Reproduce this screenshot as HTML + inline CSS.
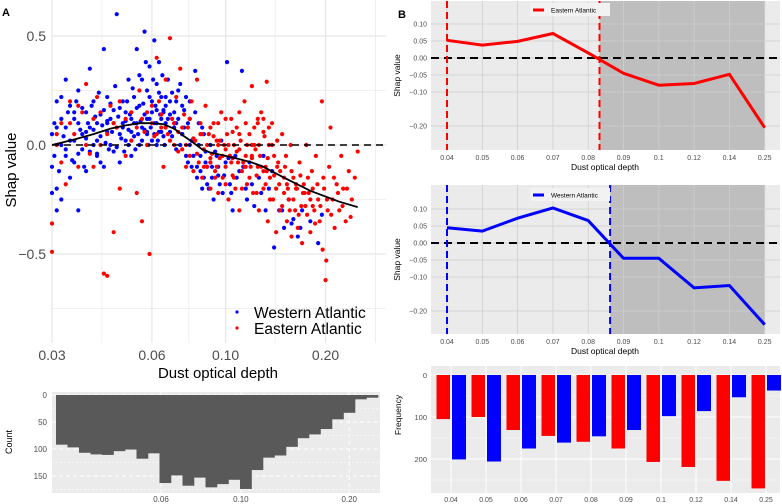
<!DOCTYPE html>
<html><head><meta charset="utf-8"><style>
body{margin:0;background:#fff;}
svg{display:block;font-family:"Liberation Sans",sans-serif;}
</style></head><body>
<svg id="chart" width="782" height="504" viewBox="0 0 782 504" xmlns="http://www.w3.org/2000/svg"></svg>
<script>
// ---------- Panel A data ----------
const westX=[0.030,0.030,0.031,0.031,0.032,0.032,0.033,0.033,0.034,0.034,0.035,0.035,0.036,0.036,0.037,0.037,0.038,0.038,0.039,0.039,0.040,0.040,0.041,0.041,0.042,0.042,0.043,0.043,0.044,0.044,0.045,0.045,0.046,0.046,0.047,0.047,0.048,0.048,0.049,0.049,0.050,0.050,0.051,0.051,0.052,0.052,0.053,0.053,0.054,0.054,0.055,0.055,0.056,0.056,0.057,0.057,0.058,0.058,0.059,0.059,0.060,0.060,0.061,0.061,0.062,0.062,0.063,0.063,0.064,0.064,0.065,0.066,0.066,0.067,0.068,0.068,0.069,0.070,0.071,0.071,0.072,0.073,0.074,0.075,0.076,0.077,0.078,0.079,0.080,0.081,0.082,0.083,0.084,0.085,0.086,0.087,0.088,0.090,0.091,0.092,0.094,0.095,0.097,0.098,0.100,0.101,0.103,0.105,0.107,0.110,0.112,0.115,0.118,0.122,0.126,0.130,0.135,0.140,0.145,0.150,0.155,0.160,0.165,0.170,0.180,0.190,0.195,0.030,0.031,0.036,0.032,0.035,0.038,0.041,0.044,0.033,0.058,0.062,0.065,0.070,0.074,0.078,
0.0305,0.0305,0.031,0.0315,0.032,0.0325,0.033,0.0335,0.034,0.0345,0.035,0.0355,0.036,0.0365,0.037,0.0375,0.038,0.0385,0.039,0.0395,0.040,0.0405,0.041,0.0415,0.042,0.0425,0.043,0.0435,0.044,0.0445,0.045,0.0455,0.046,0.0465,0.047,0.0475,0.048,0.0485,0.049,0.0495,0.050,0.0505,0.051,0.0515,0.052,0.0525,0.053,0.0535,0.054,0.0545,0.055,0.0555,0.056,0.0565,0.057,0.0575,0.058,0.0585,0.059,0.0595,0.060,0.0605,0.061,0.0615,0.062,0.0625,0.063,0.0635,0.064,0.0645,0.065,0.0655,0.066,0.067,0.068,0.069,0.070,0.071,0.072,0.073,0.074,0.075,0.076,0.077,0.078,0.079,0.080,0.081,0.082,0.083,0.084,0.085,0.086,0.087,0.088,0.089,0.090,0.091,0.093,0.095,0.096,0.099,0.102,0.104,0.108,0.113,0.116,0.120,0.128,0.132,0.138,0.148,0.158,0.168];
const westY=[0.05,-0.1,0.2,-0.2,0.0,0.12,-0.05,0.08,-0.15,0.18,0.02,-0.08,0.1,0.25,-0.02,0.05,0.15,-0.12,0.08,0.35,0.0,0.2,0.1,-0.05,0.14,0.04,0.44,-0.1,0.06,0.22,0.0,0.12,-0.03,0.16,0.08,0.6,0.05,-0.08,0.2,0.1,0.02,0.15,0.3,0.07,-0.05,0.12,0.22,0.04,0.1,0.44,0.18,0.0,0.3,0.08,0.52,0.14,0.25,0.05,0.36,0.12,0.2,0.02,0.48,0.1,0.16,0.28,0.06,0.38,0.12,0.22,0.04,0.18,0.1,0.3,0.06,0.14,0.24,0.08,0.2,-0.02,0.12,0.28,0.05,0.16,-0.05,0.1,0.2,-0.1,0.03,0.34,-0.15,0.1,-0.05,-0.2,0.05,-0.08,-0.18,0.0,-0.1,-0.25,-0.05,-0.14,0.02,-0.22,-0.08,0.38,-0.18,-0.3,-0.05,-0.12,0.34,-0.2,-0.08,-0.28,-0.15,-0.05,-0.2,-0.47,-0.3,-0.38,-0.25,-0.34,-0.42,-0.3,-0.35,-0.45,-0.32,-0.22,-0.3,-0.3,-0.25,0.15,0.06,-0.04,0.1,0.3,0.06,0.0,0.15,0.1,0.05,0.0,
0.1,-0.05,0.08,-0.12,0.22,0.04,-0.02,0.15,0.02,-0.07,0.12,0.2,-0.04,0.07,0.17,-0.1,0.03,0.1,-0.03,0.18,0.07,0.13,0.02,0.24,-0.08,0.09,0.16,0.01,0.11,-0.02,0.19,0.06,0.1,0.27,-0.01,0.13,0.17,0.03,0.08,-0.03,0.11,0.2,0.0,0.14,0.06,0.26,0.1,-0.02,0.17,0.05,0.32,0.11,0.02,0.19,0.07,0.38,0.12,0.0,0.22,0.08,0.15,0.3,0.05,0.18,0.1,0.02,0.24,0.14,0.06,0.32,0.16,0.0,0.22,0.12,0.2,0.04,0.15,0.1,0.25,0.0,0.18,0.08,0.22,-0.08,0.12,0.02,-0.05,0.15,-0.1,0.0,-0.12,0.08,-0.15,-0.03,-0.1,-0.2,-0.08,-0.15,-0.03,-0.1,-0.18,-0.14,-0.06,-0.22,-0.15,-0.1,-0.25,-0.18,-0.22,-0.3,-0.12,-0.3,-0.36,-0.38];
const eastX=[0.030,0.030,0.031,0.032,0.033,0.034,0.035,0.036,0.037,0.038,0.039,0.040,0.041,0.042,0.043,0.044,0.045,0.046,0.047,0.048,0.050,0.052,0.054,0.055,0.056,0.057,0.058,0.059,0.060,0.061,0.062,0.063,0.064,0.065,0.066,0.067,0.068,0.069,0.070,0.071,0.072,0.073,0.074,0.075,0.076,0.077,0.078,0.079,0.080,0.081,0.082,0.083,0.084,0.085,0.086,0.087,0.088,0.089,0.090,0.091,0.092,0.093,0.094,0.095,0.096,0.097,0.098,0.099,0.100,0.101,0.102,0.103,0.104,0.105,0.106,0.107,0.108,0.109,0.110,0.111,0.112,0.114,0.115,0.116,0.118,0.119,0.120,0.121,0.122,0.124,0.125,0.126,0.127,0.128,0.130,0.131,0.132,0.133,0.134,0.135,0.136,0.138,0.139,0.140,0.142,0.143,0.145,0.146,0.148,0.150,0.151,0.153,0.155,0.157,0.158,0.160,0.162,0.164,0.165,0.167,0.169,0.170,0.172,0.175,0.176,0.178,0.180,0.182,0.185,0.187,0.190,0.192,0.195,0.196,0.198,0.200,0.201,0.203,0.205,0.207,0.210,0.213,0.216,0.220,0.223,0.226,0.230,0.235,0.240,0.250,0.085,0.090,0.095,0.100,0.105,0.110,0.115,0.120,0.125,0.130,0.093,0.103,0.113,0.123,0.133,0.143,0.153,0.163,0.173,0.183,
0.031,0.032,0.034,0.036,0.038,0.040,0.042,0.044,0.046,0.048,0.050,0.052,0.054,0.056,0.058,0.060,0.062,0.064,0.066,0.068,0.070,0.072,0.074,0.076,0.078,0.080,0.082,0.084,0.086,0.088,0.090,0.092,0.094,0.096,0.098,0.100,0.102,0.104,0.106,0.108,0.110,0.112,0.114,0.116,0.118,0.120,0.122,0.124,0.126,0.128,0.130,0.132,0.134,0.136,0.138,0.140,0.142,0.144,0.146,0.148,0.150,0.152,0.154,0.156,0.158,0.160,0.163,0.166,0.168,0.171,0.174,0.177,0.180,0.183,0.186,0.189,0.193,0.197,0.202,0.208,0.212,0.218,0.225,0.232,0.238,0.245,0.090,0.095,0.100,0.105,0.110,0.115,0.120,0.125,0.130,0.135];
const eastY=[-0.36,-0.49,0.0,0.1,-0.18,0.2,0.05,-0.1,0.15,0.28,-0.04,0.12,0.22,0.0,-0.59,-0.6,0.18,-0.4,0.08,-0.2,0.12,0.02,-0.22,0.25,-0.35,0.06,0.15,-0.5,0.1,0.04,0.4,0.2,0.08,-0.1,0.3,0.05,0.49,0.12,0.0,0.22,0.06,0.35,-0.02,0.14,-0.1,0.08,-0.05,0.2,-0.12,0.02,0.3,-0.08,0.1,-0.15,-0.02,0.18,-0.1,0.05,-0.2,-0.04,0.1,-0.12,0.02,-0.22,-0.06,0.15,-0.15,0.0,-0.1,0.05,-0.25,-0.05,0.12,-0.14,0.0,-0.2,0.08,-0.08,-0.3,0.02,-0.12,0.2,-0.05,-0.18,0.05,-0.1,0.27,-0.22,0.0,-0.14,0.1,-0.3,-0.05,0.15,-0.2,0.04,-0.1,0.29,-0.35,0.0,-0.15,0.1,-0.25,-0.05,-0.4,0.02,-0.18,-0.3,0.05,-0.22,-0.1,-0.35,-0.25,0.0,-0.42,-0.15,-0.3,-0.2,-0.38,-0.08,-0.28,-0.45,-0.18,0.0,-0.32,-0.22,-0.4,-0.12,-0.3,-0.05,-0.25,-0.35,0.2,-0.48,-0.2,-0.62,-0.53,-0.3,-0.1,0.08,-0.25,-0.38,-0.18,-0.3,-0.05,-0.2,-0.35,-0.12,-0.25,-0.03,0.05,-0.08,0.0,-0.02,-0.06,-0.02,-0.1,-0.06,-0.1,-0.12,-0.15,-0.05,-0.08,-0.02,-0.12,-0.1,-0.18,-0.2,-0.22,-0.28,
0.05,-0.08,0.1,0.18,0.0,-0.1,0.15,0.05,0.1,0.2,-0.05,0.15,0.08,0.12,0.0,0.18,0.05,0.14,0.08,0.02,0.1,-0.03,0.08,0.0,0.12,0.03,-0.04,0.05,-0.1,0.0,-0.06,0.04,-0.1,0.02,-0.05,-0.18,0.0,-0.08,-0.15,-0.03,0.05,-0.2,-0.1,0.0,-0.15,-0.05,0.08,-0.22,0.0,-0.1,0.06,-0.18,-0.06,-0.25,0.0,-0.14,-0.2,-0.08,-0.12,-0.28,-0.15,-0.05,-0.2,-0.3,-0.12,-0.25,-0.18,-0.32,-0.14,-0.22,-0.28,-0.15,-0.25,-0.2,-0.36,-0.18,-0.28,-0.15,-0.25,-0.32,-0.15,-0.22,-0.28,-0.2,-0.33,-0.15,0.08,0.1,0.12,0.06,0.15,0.1,0.0,0.12,0.12,0.08];
const fitX=[0.030,0.035,0.040,0.045,0.050,0.055,0.060,0.065,0.070,0.075,0.080,0.085,0.090,0.100,0.110,0.120,0.130,0.150,0.180,0.220,0.250];
const fitY=[0.0,0.025,0.05,0.075,0.09,0.10,0.10,0.095,0.075,0.04,0.01,-0.02,-0.035,-0.05,-0.065,-0.08,-0.10,-0.15,-0.21,-0.26,-0.285];
const aXTicks=[0.03,0.06,0.10,0.20];
const aXTickLabels=["0.03","0.06","0.10","0.20"];
const aXMinor=[0.0424,0.0775,0.141,0.283];
const aYTicks=[0.5,0.0,-0.5];
const aYTickLabels=["0.5","0.0","-0.5"];
const aYMinor=[0.25,-0.25,-0.75];
// ---------- Panel A histogram ----------
const histCounts=[92,97,107,110,111,104,101,118,108,163,149,168,153,171,165,157,174,139,116,112,96,80,73,63,45,33,8,5];
const hXTicks=[0.06,0.10,0.20];
const hXTickLabels=["0.06","0.10","0.20"];
const hYTicks=[0,50,100,150];
// ---------- Panel B ----------
const bCats=["0.04","0.05","0.06","0.07","0.08","0.09","0.1","0.12","0.14","0.25"];
const eastShap=[0.052,0.038,0.049,0.072,0.015,-0.045,-0.08,-0.075,-0.048,-0.205];
const westShap=[0.045,0.035,0.073,0.103,0.066,-0.045,-0.045,-0.132,-0.125,-0.24];
const eastThreshold=4.32;
const westThreshold=4.62;
const bYTicks=[0.10,0.05,0.00,-0.05,-0.10,-0.20];
const bYTickLabels=["0.10","0.05","0.00","\u22120.05","\u22120.10","\u22120.20"];
const eastFreq=[105,100,131,145,159,175,207,219,252,270];
const westFreq=[201,206,175,161,146,131,98,86,53,37];
const fYTicks=[0,100,200];

const svg=document.getElementById('chart');
const NS="http://www.w3.org/2000/svg";
function mk(tag,attrs,parent){const e=document.createElementNS(NS,tag);for(const k in attrs)e.setAttribute(k,attrs[k]);(parent||svg).appendChild(e);return e;}
function txt(s,attrs,parent){const e=mk('text',attrs,parent);e.textContent=s;return e;}

// ===== Panel A scatter =====
const gA=mk('g',{});


const ax=v=>52+332*Math.log10(v/0.03);
const ay=v=>145-218*v;
aXMinor.forEach(v=>{const l=mk('line',{x1:ax(v),x2:ax(v),y1:0,y2:343,stroke:'#ebebeb','stroke-width':0.8},gA);});
aYMinor.forEach(v=>{const l=mk('line',{x1:52,x2:386,y1:ay(v),y2:ay(v),stroke:'#ebebeb','stroke-width':0.8},gA);});
aXTicks.forEach(v=>{const l=mk('line',{x1:ax(v),x2:ax(v),y1:0,y2:343,stroke:'#e6e6e6','stroke-width':1.2},gA);});
aYTicks.forEach(v=>{const l=mk('line',{x1:52,x2:386,y1:ay(v),y2:ay(v),stroke:'#e6e6e6','stroke-width':1.2},gA);});
westX.forEach((v,i)=>{const c=mk('circle',{cx:ax(v),cy:ay(westY[i]),r:2.1,fill:'#0000ff'},gA);});
eastX.forEach((v,i)=>{const c=mk('circle',{cx:ax(v),cy:ay(eastY[i]),r:2.1,fill:'#ff0000'},gA);});
let zl=mk('line',{x1:52,x2:386,y1:ay(0),y2:ay(0),stroke:'#000','stroke-width':1.6,'stroke-dasharray':'7,5'},gA);

let fp=mk('polyline',{points:fitX.map((v,i)=>ax(v)+','+ay(fitY[i])).join(' '),fill:'none',stroke:'#000','stroke-width':1.8},gA);

aYTickLabels.forEach((s,i)=>{const t=txt(s.replace('-','\u2212'),{x:46,y:ay(aYTicks[i])+5,'text-anchor':'end','font-size':14,fill:'#4d4d4d'},gA);});
aXTickLabels.forEach((s,i)=>{const t=txt(s,{x:ax(aXTicks[i]),y:360,'text-anchor':'middle','font-size':14,fill:'#4d4d4d'},gA);});
let t1=txt('Dust optical depth',{x:218,y:378,'text-anchor':'middle','font-size':15,fill:'#000'},gA);

let t2=txt('Shap value',{x:0,y:0,'text-anchor':'middle','font-size':15,fill:'#000',transform:'translate(16,170) rotate(-90)'},gA);

let lg=mk('g',{},gA);
mk('circle',{cx:237,cy:312,r:1.6,fill:'#0000ff'},lg);
mk('circle',{cx:237,cy:328,r:1.6,fill:'#ff0000'},lg);
let le1=txt('Western Atlantic',{x:254,y:318,'font-size':15.5,fill:'#000'},lg);
let le2=txt('Eastern Atlantic',{x:254,y:334,'font-size':15.5,fill:'#000'},lg);
let la=txt('A',{x:2,y:16,'font-size':11,'font-weight':'bold'});

// ===== Panel A histogram =====
const gH=mk('g',{});
mk('rect',{x:52,y:392,width:328,height:101,fill:'#ebebeb'},gH);
const hx=v=>161+360*Math.log10(v/0.06);
const hy=v=>395+0.54*v;
[25,75,125,175].forEach(v=>mk('line',{x1:52,x2:380,y1:hy(v),y2:hy(v),stroke:'#fff','stroke-width':0.6,'stroke-dasharray':'2,2'},gH));
hYTicks.forEach(v=>mk('line',{x1:52,x2:380,y1:hy(v),y2:hy(v),stroke:'#fff','stroke-width':1,'stroke-dasharray':'4,3'},gH));
hXTicks.forEach(v=>mk('line',{x1:hx(v),x2:hx(v),y1:392,y2:493,stroke:'#fff','stroke-width':1,'stroke-dasharray':'4,3'},gH));
const binW=(378-56)/histCounts.length;
histCounts.forEach((c,i)=>{const r=mk('rect',{x:56+i*binW,y:hy(0),width:binW+0.3,height:hy(c)-hy(0),fill:'#595959'},gH);});
hYTicks.forEach(v=>{const t=txt(String(v),{x:47,y:hy(v)+3,'text-anchor':'end','font-size':8,fill:'#4d4d4d'},gH);});
hXTickLabels.forEach((s,i)=>{const t=txt(s,{x:hx(hXTicks[i]),y:502,'text-anchor':'middle','font-size':8,fill:'#4d4d4d'},gH);});
let ct=txt('Count',{x:0,y:0,'text-anchor':'middle','font-size':9,fill:'#000',transform:'translate(12,442) rotate(-90)'},gH);


// ===== Panel B line charts =====
const bx=i=>447+35.3*i;
function linePanel(name,vals,thr,color,top,bottom,zeroY,legendText,legY){
  const g=mk('g',{});
  
  
  const by=v=>zeroY-340*v;
  mk('rect',{x:431,y:top,width:349,height:bottom-top,fill:'#ebebeb'},g);
  mk('rect',{x:447+35.3*thr,y:top,width:765-(447+35.3*thr),height:bottom-top,fill:'#bebebe'},g);
  bYTicks.forEach(v=>mk('line',{x1:431,x2:780,y1:by(v),y2:by(v),stroke:'#cfcfcf','stroke-width':0.8},g));
  bCats.forEach((c,i)=>mk('line',{x1:bx(i),x2:bx(i),y1:top,y2:bottom,stroke:'#cfcfcf','stroke-width':0.8},g));
  mk('line',{x1:431,x2:780,y1:by(0),y2:by(0),stroke:'#000','stroke-width':2,'stroke-dasharray':'8,5'},g);
  const l=mk('polyline',{points:vals.map((v,i)=>bx(i)+','+by(v)).join(' '),fill:'none',stroke:color,'stroke-width':3},g);
  
  [0,thr].forEach(t=>mk('line',{x1:bx(t),x2:bx(t),y1:top,y2:bottom,stroke:color,'stroke-width':2,'stroke-dasharray':'7,4'},g));
  bYTickLabels.forEach((s,i)=>{const t=txt(s,{x:427,y:by(bYTicks[i])+2.5,'text-anchor':'end','font-size':7,fill:'#4d4d4d'},g);});
  bCats.forEach((c,i)=>{const t=txt(c,{x:bx(i),y:bottom+10,'text-anchor':'middle','font-size':7,fill:'#4d4d4d'},g);});
  const xt=txt('Dust optical depth',{x:605,y:bottom+20,'text-anchor':'middle','font-size':8.5,fill:'#000'},g);
  
  const yt=txt('Shap value',{x:0,y:0,'text-anchor':'middle','font-size':8.5,fill:'#000',transform:`translate(400,${(top+bottom)/2}) rotate(-90)`},g);
  
  const lgd=mk('g',{},g);
  
  mk('rect',{x:530,y:legY-7,width:80,height:13,fill:'#f2f2f2'},lgd);
  mk('line',{x1:533,x2:544,y1:legY,y2:legY,stroke:color,'stroke-width':3},lgd);
  txt(legendText,{x:551,y:legY+2.5,'font-size':6.5,fill:'#000'},lgd);
}
linePanel('panel-b-eastern',eastShap,eastThreshold,'#ff0000',1,150,58,'Eastern Atlantic',10);
linePanel('panel-b-western',westShap,westThreshold,'#0000ff',185,334,243,'Western Atlantic',195);
let lb=txt('B',{x:398,y:18,'font-size':11,'font-weight':'bold'});

// ===== Panel B frequency =====
const gF=mk('g',{});
mk('rect',{x:431,y:366,width:349,height:127,fill:'#ebebeb'},gF);
const fy=v=>375+0.42*v;
[50,150,250].forEach(v=>mk('line',{x1:431,x2:780,y1:fy(v),y2:fy(v),stroke:'#f5f5f5','stroke-width':0.6},gF));
fYTicks.forEach(v=>mk('line',{x1:431,x2:780,y1:fy(v),y2:fy(v),stroke:'#fff','stroke-width':1},gF));
const fx=i=>451+35*i;
bCats.forEach((c,i)=>mk('line',{x1:fx(i),x2:fx(i),y1:366,y2:493,stroke:'#fff','stroke-width':1},gF));
eastFreq.forEach((v,i)=>{const r=mk('rect',{x:fx(i)-14.5,y:fy(0),width:13.5,height:fy(v)-fy(0),fill:'#ff0000'},gF);});
westFreq.forEach((v,i)=>{const r=mk('rect',{x:fx(i)+1,y:fy(0),width:14,height:fy(v)-fy(0),fill:'#0000ff'},gF);});
fYTicks.forEach(v=>{const t=txt(String(v),{x:427,y:fy(v)+3,'text-anchor':'end','font-size':7.5,fill:'#4d4d4d'},gF);});
bCats.forEach((c,i)=>{const t=txt(c,{x:fx(i),y:502,'text-anchor':'middle','font-size':7,fill:'#4d4d4d'},gF);});
let ft=txt('Frequency',{x:0,y:0,'text-anchor':'middle','font-size':8.5,fill:'#000',transform:'translate(401,415) rotate(-90)'},gF);

</script>
</body></html>
